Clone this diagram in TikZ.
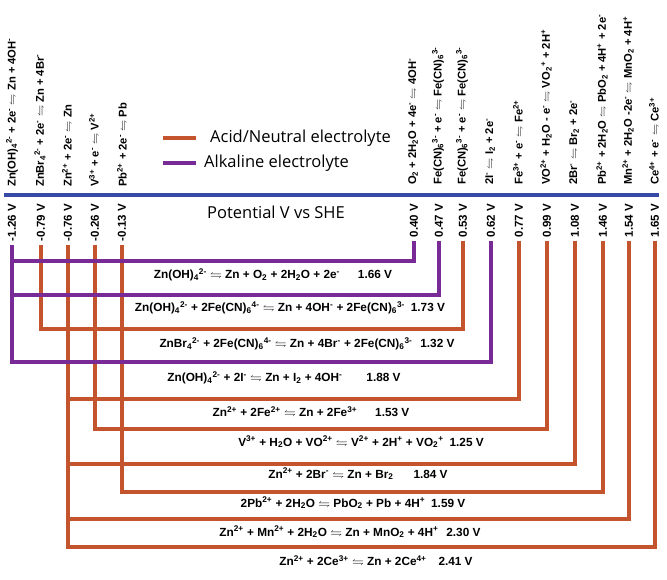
\documentclass[tikz,border=0pt]{standalone}
\usepackage{fontspec}
\usepackage{amssymb}
\newfontfamily\rxnfont{Liberation Sans}
\newfontfamily\legfont{Open Sans}
\definecolor{acidc}{RGB}{196,84,46}
\definecolor{alkc}{RGB}{120,42,150}
\definecolor{shec}{RGB}{55,74,165}
\newcommand{\chup}[1]{\textsuperscript{#1}}
\newcommand{\chdn}[1]{\textsubscript{#1}}
\newcommand{\eqm}{$\leftrightharpoons$}
\tikzset{
  acid/.style={draw=acidc,line width=3.2pt},
  alk/.style={draw=alkc,line width=3.2pt},
  she/.style={draw=shec,line width=4pt},
  toplbl/.style={rotate=90,anchor=west,inner sep=0pt,font=\rxnfont\bfseries\fontsize{11.2}{13}\selectfont},
  volt/.style={rotate=90,anchor=east,inner sep=0pt,outer sep=4pt,font=\rxnfont\bfseries\fontsize{11.5}{13}\selectfont},
  rxn/.style={inner sep=0pt,font=\rxnfont\bfseries\fontsize{11.8}{13}\selectfont},
  leg/.style={anchor=west,inner sep=0pt,font=\legfont\fontsize{16.5}{18}\selectfont}
}
\begin{document}
\begin{tikzpicture}[x=1pt,y=-1pt,line join=miter]
  \useasboundingbox (0,0) rectangle (667,580);
  % potential axis
  \coordinate (axl) at (4,195);
  \coordinate (axr) at (659,195);
  \draw[she] (axl) -- (axr);
  \node[leg,anchor=center] (axis) at (276,212) {Potential V vs SHE};
  % legend
  \coordinate (lga) at (163,138);
  \coordinate (lgb) at (196,138);
  \coordinate (lgc) at (163,163);
  \coordinate (lgd) at (196,163);
  \draw[acid] (lga) -- (lgb);
  \draw[alk] (lgc) -- (lgd);
  \node[leg] (lgacid) at (210,138) {Acid/Neutral electrolyte};
  \node[leg] (lgalk) at (204,163) {Alkaline electrolyte};
  % half reactions, negative side
  \node[toplbl] (zoh) at (12,187) {Zn(OH)\chdn{4}\chup{2-} + 2e\chup{-} \eqm{} Zn + 4OH\chup{-}};
  \node[toplbl] (znbr) at (40,187) {ZnBr\chdn{4}\chup{2-} + 2e\chup{-} \eqm{} Zn + 4Br\chup{-}};
  \node[toplbl] (zn) at (67,187) {Zn\chup{2+} + 2e\chup{-} \eqm{} Zn};
  \node[toplbl] (vv) at (94,187) {V\chup{3+} + e\chup{-} \eqm{} V\chup{2+}};
  \node[toplbl] (pb) at (122,187) {Pb\chup{2+} + 2e\chup{-} \eqm{} Pb};
  % half reactions, positive side
  \node[toplbl] (oo) at (413,185) {O\chdn{2} + 2H\chdn{2}O + 4e\chup{-} \eqm{} 4OH\chup{-}};
  \node[toplbl] (fea) at (438,185) {Fe(CN)\chdn{6}\chup{3-} + e\chup{-} \eqm{} Fe(CN)\chdn{6}\chup{3-}};
  \node[toplbl] (feb) at (462,185) {Fe(CN)\chdn{6}\chup{3-} + e\chup{-} \eqm{} Fe(CN)\chdn{6}\chup{3-}};
  \node[toplbl] (io) at (490,185) {2I\chup{-} \eqm{} I\chdn{2} + 2e\chup{-}};
  \node[toplbl] (fe) at (518,185) {Fe\chup{3+} + e\chup{-} \eqm{} Fe\chup{2+}};
  \node[toplbl] (vo) at (546,185) {VO\chup{2+} + H\chdn{2}O - e\chup{-} \eqm{} VO\chdn{2}\chup{+} + 2H\chup{+}};
  \node[toplbl] (br) at (574,185) {2Br\chup{-} \eqm{} Br\chdn{2} + 2e\chup{-}};
  \node[toplbl] (pbo) at (602,185) {Pb\chup{2+} + 2H\chdn{2}O \eqm{} PbO\chdn{2} + 4H\chup{+} + 2e\chup{-}};
  \node[toplbl] (mn) at (628,185) {Mn\chup{2+} + 2H\chdn{2}O -2e\chup{-} \eqm{} MnO\chdn{2} + 4H\chup{+}};
  \node[toplbl] (ce) at (654,185) {Ce\chup{4+} + e\chup{-} \eqm{} Ce\chup{3+}};
  % potentials
  \node[volt] (zoh-v) at (12,200) {-1.26 V};
  \node[volt] (znbr-v) at (41,200) {-0.79 V};
  \node[volt] (zn-v) at (68,200) {-0.76 V};
  \node[volt] (vv-v) at (95,200) {-0.26 V};
  \node[volt] (pb-v) at (122,200) {-0.13 V};
  \node[volt] (oo-v) at (414,200) {0.40 V};
  \node[volt] (fea-v) at (439,200) {0.47 V};
  \node[volt] (feb-v) at (463,200) {0.53 V};
  \node[volt] (io-v) at (491,200) {0.62 V};
  \node[volt] (fe-v) at (519,200) {0.77 V};
  \node[volt] (vo-v) at (547,200) {0.99 V};
  \node[volt] (br-v) at (575,200) {1.08 V};
  \node[volt] (pbo-v) at (603,200) {1.46 V};
  \node[volt] (mn-v) at (629,200) {1.54 V};
  \node[volt] (ce-v) at (655,200) {1.65 V};
  % full cells
  \coordinate (h1) at (0,261);
  \coordinate (h2) at (0,295);
  \coordinate (h3) at (0,329);
  \coordinate (h4) at (0,362);
  \coordinate (h5) at (0,399);
  \coordinate (h6) at (0,429);
  \coordinate (h7) at (0,464);
  \coordinate (h8) at (0,492);
  \coordinate (h9) at (0,519);
  \coordinate (h10) at (0,547);
  \draw[acid] (znbr-v.west) -- (znbr-v.west |- h3) -| (feb-v.west);
  \draw[acid] (zn-v.west) -- (zn-v.west |- h5) -| (fe-v.west);
  \draw[acid] (vv-v.west) -- (vv-v.west |- h6) -| (vo-v.west);
  \draw[acid] (zn-v.west) -- (zn-v.west |- h7) -| (br-v.west);
  \draw[acid] (pb-v.west) -- (pb-v.west |- h8) -| (pbo-v.west);
  \draw[acid] (zn-v.west) -- (zn-v.west |- h9) -| (mn-v.west);
  \draw[acid] (zn-v.west) -- (zn-v.west |- h10) -| (ce-v.west);
  \draw[alk] (zoh-v.west) -- (zoh-v.west |- h1) -| (oo-v.west);
  \draw[alk] (zoh-v.west) -- (zoh-v.west |- h2) -| (fea-v.west);
  \draw[alk] (zoh-v.west) -- (zoh-v.west |- h4) -| (io-v.west);
  % cell reactions
  \node[rxn] (r1) at (273,275) {Zn(OH)\chdn{4}\chup{2-} \eqm{} Zn + O\chdn{2} + 2H\chdn{2}O + 2e\chup{-}\hspace{18pt}1.66 V};
  \node[rxn] (r2) at (290,308) {Zn(OH)\chdn{4}\chup{2-} + 2Fe(CN)\chdn{6}\chup{4-} \eqm{} Zn + 4OH\chup{-} + 2Fe(CN)\chdn{6}\chup{3-}\hspace{6pt}1.73 V};
  \node[rxn] (r3) at (307,344) {ZnBr\chdn{4}\chup{2-} + 2Fe(CN)\chdn{6}\chup{4-} \eqm{} Zn + 4Br\chup{-} + 2Fe(CN)\chdn{6}\chup{3-}\hspace{8pt}1.32 V};
  \node[rxn] (r4) at (284,378) {Zn(OH)\chdn{4}\chup{2-} + 2I\chup{-} \eqm{} Zn + I\chdn{2} + 4OH\chup{-}\hspace{24pt}1.88 V};
  \node[rxn] (r5) at (311,412) {Zn\chup{2+} + 2Fe\chup{2+} \eqm{} Zn + 2Fe\chup{3+}\hspace{18pt}1.53 V};
  \node[rxn] (r6) at (361,442) {V\chup{3+} + H\chdn{2}O + VO\chup{2+} \eqm{} V\chup{2+} + 2H\chup{+} + VO\chdn{2}\chup{+}\hspace{6pt}1.25 V};
  \node[rxn] (r7) at (358,474) {Zn\chup{2+} + 2Br\chup{-} \eqm{} Zn + Br\chdn{2}\hspace{20pt}1.84 V};
  \node[rxn] (r8) at (353,503) {2Pb\chup{2+} + 2H\chdn{2}O \eqm{} PbO\chdn{2} + Pb + 4H\chup{+}\hspace{6pt}1.59 V};
  \node[rxn] (r9) at (350,532) {Zn\chup{2+} + Mn\chup{2+} + 2H\chdn{2}O \eqm{} Zn + MnO\chdn{2} + 4H\chup{+}\hspace{8pt}2.30 V};
  \node[rxn] (r10) at (376,561) {Zn\chup{2+} + 2Ce\chup{3+} \eqm{} Zn + 2Ce\chup{4+}\hspace{12pt}2.41 V};
\end{tikzpicture}
\end{document}
